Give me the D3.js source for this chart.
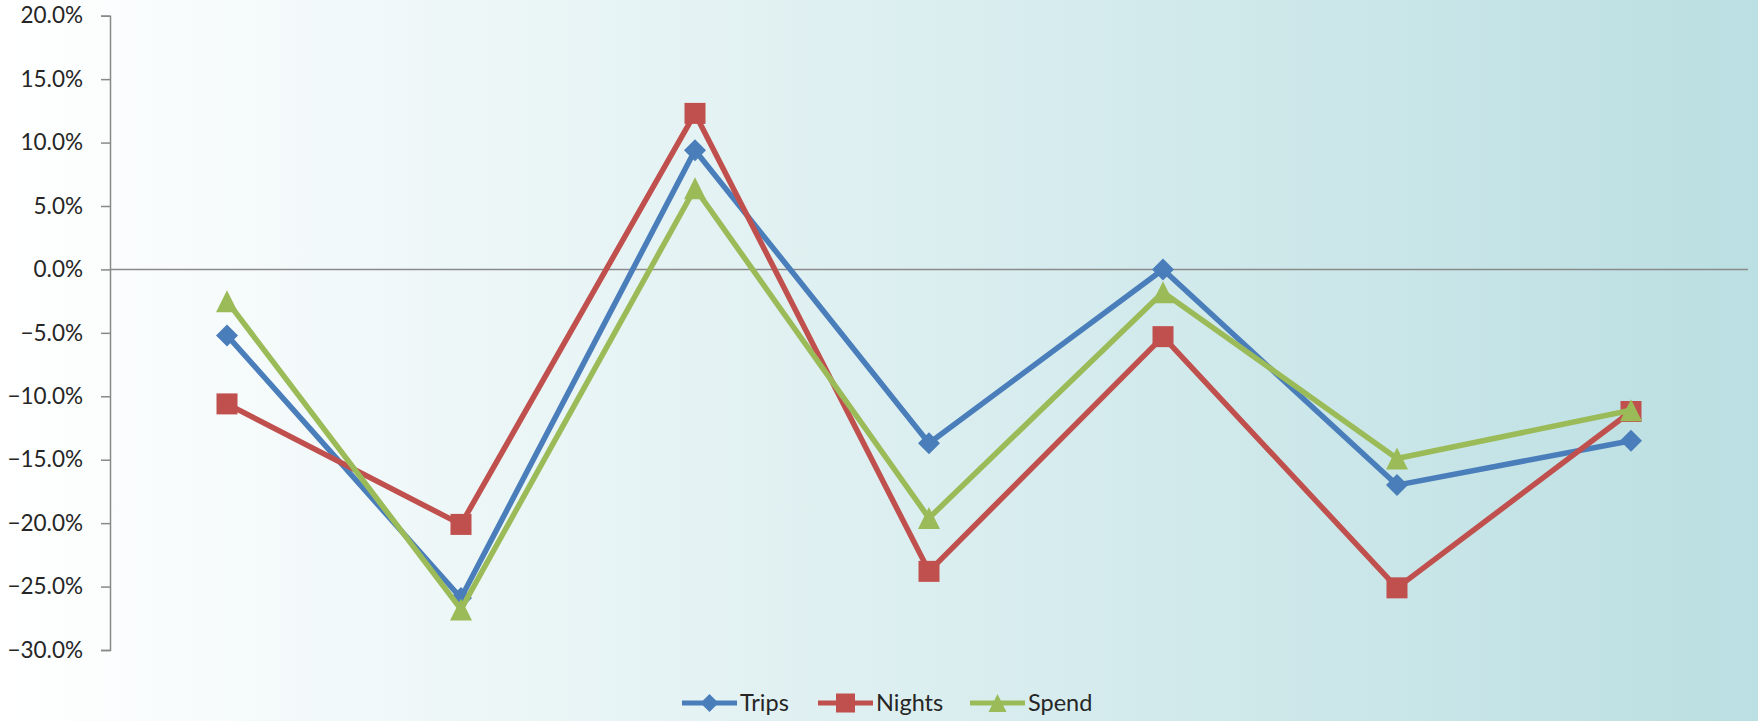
<!DOCTYPE html>
<html><head><meta charset="utf-8">
<script src="https://cdn.jsdelivr.net/npm/d3@7"></script>
<style>html,body{margin:0;padding:0;overflow:hidden;}svg{display:block;}</style>
</head><body>
<script>
const categories = ["1","2","3","4","5","6","7"];
const trips  = [-5.2, -25.9, 9.4, -13.7, 0.0, -17.0, -13.5];
const nights = [-10.6, -20.1, 12.3, -23.8, -5.3, -25.1, -11.2];
const spend  = [-2.5, -26.8, 6.4, -19.6, -1.8, -14.9, -11.1];
const yTicks = [20, 15, 10, 5, 0, -5, -10, -15, -20, -25, -30];
const seriesNames = ["Trips", "Nights", "Spend"];

const W = 1758, H = 721;
const svg = d3.select("body").append("svg").attr("width", W).attr("height", H);
const defs = svg.append("defs");
const grad = defs.append("linearGradient").attr("id","bg").attr("x1","0").attr("x2","1").attr("y1","0").attr("y2","0");
grad.append("stop").attr("offset","0").attr("stop-color","#ffffff");
grad.append("stop").attr("offset","1").attr("stop-color","#bbdfe2");
svg.append("rect").attr("width",W).attr("height",H).attr("fill","url(#bg)");

const left = 110, right = 1748;
const x = d3.scaleBand().domain(categories).range([left, right]);
const y = d3.scaleLinear().domain([-30, 20]).range([650, 15.7]);

const font = "Lato, 'Open Sans', sans-serif";

// y axis
const yAxis = d3.axisLeft(y).tickValues(yTicks).tickSize(9).tickPadding(18)
  .tickFormat(d => d3.format(".1f")(d) + "%");
const ga = svg.append("g").attr("transform", `translate(${left},0)`).call(yAxis);
ga.select(".domain").attr("stroke","#888").attr("stroke-width",1.5);
ga.selectAll(".tick line").attr("stroke","#888").attr("stroke-width",1.5);
ga.selectAll(".tick text").attr("fill","#262626").style("font-family",font).style("font-size","22.5px");

// zero line
svg.append("line").attr("x1",left).attr("x2",right).attr("y1",y(0)).attr("y2",y(0))
  .attr("stroke","#8a8a8a").attr("stroke-width",1.5);

const colors = ["#4a7ebb", "#c0504d", "#9bbb59"];
const data = [trips, nights, spend];

function marker(g, i, cx, cy, s) {
  if (i === 0) {
    g.append("path").attr("d", `M${cx},${cy-s/2}L${cx+s/2},${cy}L${cx},${cy+s/2}L${cx-s/2},${cy}Z`).attr("fill", colors[i]);
  } else if (i === 1) {
    g.append("rect").attr("x", cx-s/2).attr("y", cy-s/2).attr("width", s).attr("height", s).attr("fill", colors[i]);
  } else {
    g.append("path").attr("d", `M${cx},${cy-s/2}L${cx+s/2},${cy+s/2}L${cx-s/2},${cy+s/2}Z`).attr("fill", colors[i]);
  }
}

const line = d3.line().x((d,i) => x(categories[i]) + x.bandwidth()/2).y(d => y(d));
data.forEach((vals, i) => {
  const g = svg.append("g");
  g.append("path").datum(vals).attr("d", line).attr("fill","none")
    .attr("stroke", colors[i]).attr("stroke-width", 5.5).attr("stroke-linejoin","round");
  vals.forEach((v, j) => marker(g, i, x(categories[j]) + x.bandwidth()/2, y(v), i===1 ? 21 : 22));
});

// legend
const legendX = [682, 818, 970];
const ly = 703;
seriesNames.forEach((name, i) => {
  const g = svg.append("g");
  g.append("line").attr("x1", legendX[i]).attr("x2", legendX[i]+55).attr("y1", ly).attr("y2", ly)
    .attr("stroke", colors[i]).attr("stroke-width", 5);
  marker(g, i, legendX[i]+27.5, ly, i===1 ? 19 : 18);
  g.append("text").attr("x", legendX[i]+58).attr("y", ly).attr("dy","0.35em")
    .attr("fill","#262626").style("font-family",font).style("font-size","23.5px").text(name);
});
</script>
</body></html>
